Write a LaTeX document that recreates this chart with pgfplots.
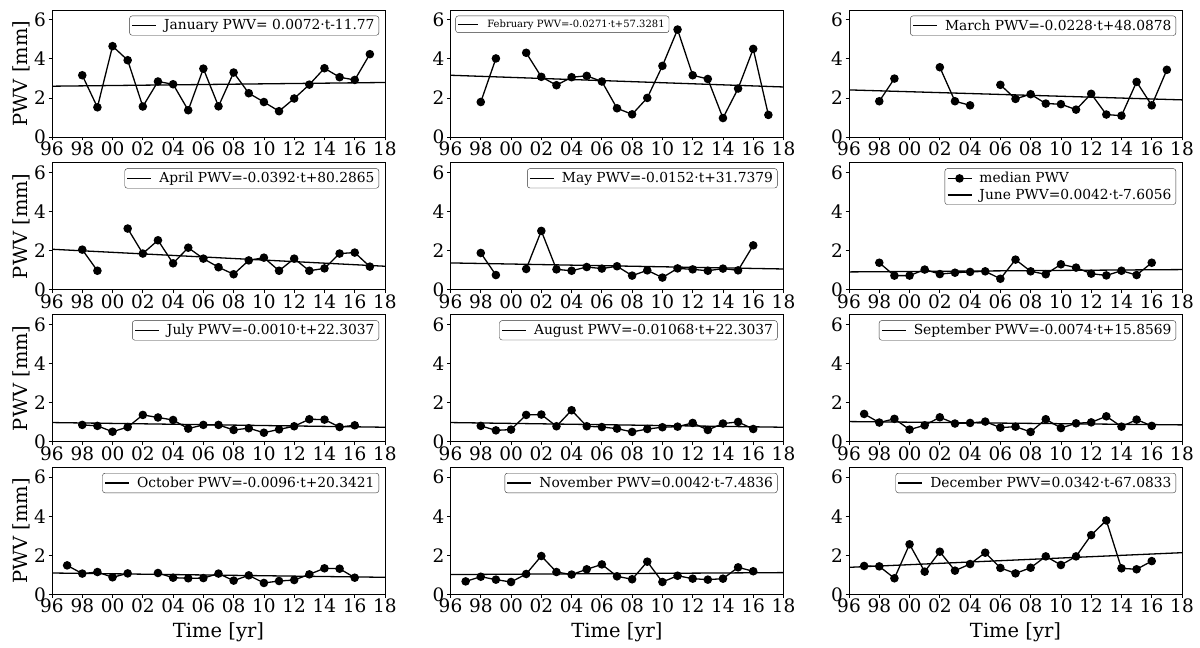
\documentclass[border=0pt]{standalone}
\usepackage{fontspec}
\setmainfont{DejaVu Serif}
\usepackage{pgfplots}
\pgfplotsset{compat=1.18}
\pgfplotsset{
  pwv/.style={
    scale only axis, width=333pt, height=127pt,
    xmin=1996, xmax=2018, ymin=0, ymax=6.5,
    xtick={1996,1998,...,2018},
    xticklabels={96,98,00,02,04,06,08,10,12,14,16,18},
    ytick={0,2,4,6},
    tick align=outside, tick pos=left, major tick length=3.5pt,
    every tick/.style={black, line width=0.8pt},
    axis line style={line width=0.8pt},
    /pgf/number format/assume math mode=true,
    tick label style={font=\fontsize{18.5}{21}\selectfont},
    xticklabel style={inner sep=1pt},
    yticklabel style={inner sep=2.5pt},
    label style={font=\fontsize{19.5}{23}\selectfont},
    unbounded coords=jump,
    legend cell align=left,
    legend style={font=\fontsize{13.8}{16}\selectfont, draw=black!80, rounded corners=2.5pt,
      at={(0.982,0.955)}, anchor=north east, inner xsep=2pt, inner ysep=1.5pt,
      nodes={inner sep=2.3pt, text depth=0.15em}},
    legend image code/.code={\draw[mark repeat=2,mark phase=2,##1] plot coordinates {(0pt,0pt) (12pt,0pt) (24pt,0pt)}; \path (29pt,0pt);},
  },
  med/.style={black, line width=1.3pt, mark=*, mark size=3.6pt, mark options={solid}},
  trend/.style={black, line width=1.3pt, no marks},
  ylab/.style={ylabel={PWV [mm]}, ylabel style={at={(axis description cs:-0.093,0.5)}, anchor=center}},
  xlab/.style={xlabel={Time [yr]}, xlabel style={at={(axis description cs:0.5,-0.30)}, anchor=center}},
}
\begin{document}
\begin{tikzpicture}
\path[use as bounding box] (0pt,0pt) rectangle (1200pt,648pt);
% ---------- Row 1 ----------
\begin{axis}[pwv, ylab, at={(52pt,511pt)}, anchor=south west]
\addplot[med, forget plot] table {
x y
1998 3.16
1999 1.52
2000 4.65
2001 3.93
2002 1.56
2003 2.84
2004 2.70
2005 1.37
2006 3.50
2007 1.57
2008 3.30
2009 2.24
2010 1.79
2011 1.32
2012 1.97
2013 2.68
2014 3.52
2015 3.06
2016 2.92
2017 4.24
};
\addplot[trend] coordinates {(1996,2.60) (2018,2.79)};
\addlegendentry{January PWV= 0.0072·t-11.77}
\end{axis}
\begin{axis}[pwv, at={(450.5pt,511pt)}, anchor=south west,
  legend style={font=\fontsize{10}{12}\selectfont, at={(0.015,0.955)}, anchor=north west},
  legend image code/.code={\draw[mark repeat=2,mark phase=2,#1] plot coordinates {(0pt,0pt) (10pt,0pt) (20pt,0pt)}; \path (26pt,0pt);}]
\addplot[med, forget plot] table {
x y
1998 1.79
1999 4.02
2000 nan
2001 4.31
2002 3.08
2003 2.65
2004 3.06
2005 3.13
2006 2.84
2007 1.47
2008 1.16
2009 2.00
2010 3.64
2011 5.50
2012 3.16
2013 2.97
2014 0.97
2015 2.48
2016 4.51
2017 1.13
};
\addplot[trend] coordinates {(1996,3.16) (2018,2.56)};
\addlegendentry{February PWV=-0.0271·t+57.3281}
\end{axis}
\begin{axis}[pwv, at={(849pt,511pt)}, anchor=south west]
\addplot[med, forget plot] table {
x y
1998 1.83
1999 2.99
2000 nan
2001 nan
2002 3.57
2003 1.83
2004 1.62
2005 nan
2006 2.67
2007 1.95
2008 2.19
2009 1.71
2010 1.68
2011 1.40
2012 2.21
2013 1.15
2014 1.09
2015 2.82
2016 1.62
2017 3.44
};
\addplot[trend] coordinates {(1996,2.41) (2018,1.90)};
\addlegendentry{March PWV=-0.0228·t+48.0878}
\end{axis}
% ---------- Row 2 ----------
\begin{axis}[pwv, ylab, at={(52pt,358.3pt)}, anchor=south west]
\addplot[med, forget plot] table {
x y
1998 2.05
1999 0.97
2000 nan
2001 3.13
2002 1.85
2003 2.53
2004 1.35
2005 2.15
2006 1.59
2007 1.15
2008 0.79
2009 1.50
2010 1.64
2011 0.97
2012 1.59
2013 0.97
2014 1.09
2015 1.85
2016 1.90
2017 1.18
};
\addplot[trend] coordinates {(1996,2.07) (2018,1.20)};
\addlegendentry{April PWV=-0.0392·t+80.2865}
\end{axis}
\begin{axis}[pwv, at={(450.5pt,358.3pt)}, anchor=south west]
\addplot[med, forget plot] table {
x y
1998 1.88
1999 0.75
2000 nan
2001 1.06
2002 3.01
2003 1.04
2004 0.97
2005 1.16
2006 1.08
2007 1.20
2008 0.72
2009 0.99
2010 0.62
2011 1.09
2012 1.04
2013 0.97
2014 1.08
2015 0.99
2016 2.27
};
\addplot[trend] coordinates {(1996,1.37) (2018,1.06)};
\addlegendentry{May PWV=-0.0152·t+31.7379}
\end{axis}
\begin{axis}[pwv, at={(849pt,358.3pt)}, anchor=south west]
\addplot[med] table {
x y
1998 1.38
1999 0.72
2000 0.72
2001 1.03
2002 0.80
2003 0.87
2004 0.91
2005 0.94
2006 0.56
2007 1.54
2008 0.94
2009 0.79
2010 1.30
2011 1.13
2012 0.82
2013 0.73
2014 0.97
2015 0.75
2016 1.38
};
\addlegendentry{median PWV}
\addplot[trend] coordinates {(1996,0.91) (2018,1.03)};
\addlegendentry{June PWV=0.0042·t-7.6056}
\end{axis}
% ---------- Row 3 ----------
\begin{axis}[pwv, ylab, at={(52pt,206.3pt)}, anchor=south west]
\addplot[med, forget plot] table {
x y
1998 0.86
1999 0.81
2000 0.51
2001 0.75
2002 1.37
2003 1.24
2004 1.11
2005 0.67
2006 0.86
2007 0.86
2008 0.60
2009 0.69
2010 0.46
2011 0.63
2012 0.79
2013 1.15
2014 1.13
2015 0.75
2016 0.84
};
\addplot[trend] coordinates {(1996,0.98) (2018,0.74)};
\addlegendentry{July PWV=-0.0010·t+22.3037}
\end{axis}
\begin{axis}[pwv, at={(450.5pt,206.3pt)}, anchor=south west]
\addplot[med, forget plot] table {
x y
1998 0.81
1999 0.58
2000 0.62
2001 1.37
2002 1.39
2003 0.79
2004 1.61
2005 0.79
2006 0.75
2007 0.67
2008 0.50
2009 0.65
2010 0.74
2011 0.77
2012 0.96
2013 0.60
2014 0.93
2015 1.01
2016 0.65
};
\addplot[trend] coordinates {(1996,0.98) (2018,0.74)};
\addlegendentry{August PWV=-0.01068·t+22.3037}
\end{axis}
\begin{axis}[pwv, at={(849pt,206.3pt)}, anchor=south west]
\addplot[med, forget plot] table {
x y
1997 1.42
1998 0.98
1999 1.17
2000 0.62
2001 0.84
2002 1.25
2003 0.93
2004 0.96
2005 1.03
2006 0.72
2007 0.77
2008 0.50
2009 1.15
2010 0.70
2011 0.94
2012 0.99
2013 1.30
2014 0.77
2015 1.13
2016 0.81
};
\addplot[trend] coordinates {(1996,1.03) (2018,0.86)};
\addlegendentry{September PWV=-0.0074·t+15.8569}
\end{axis}
% ---------- Row 4 ----------
\begin{axis}[pwv, ylab, xlab, at={(52pt,53.7pt)}, anchor=south west]
\addplot[med, forget plot] table {
x y
1997 1.48
1998 1.06
1999 1.14
2000 0.87
2001 1.07
2002 nan
2003 1.09
2004 0.85
2005 0.82
2006 0.83
2007 1.06
2008 0.70
2009 0.97
2010 0.58
2011 0.68
2012 0.73
2013 1.02
2014 1.33
2015 1.31
2016 0.85
};
\addplot[trend] coordinates {(1996,1.09) (2018,0.87)};
\addlegendentry{October PWV=-0.0096·t+20.3421}
\end{axis}
\begin{axis}[pwv, xlab, at={(450.5pt,53.7pt)}, anchor=south west]
\addplot[med, forget plot] table {
x y
1997 0.66
1998 0.90
1999 0.75
2000 0.63
2001 1.04
2002 1.96
2003 1.14
2004 1.01
2005 1.28
2006 1.53
2007 0.92
2008 0.77
2009 1.67
2010 0.63
2011 0.95
2012 0.80
2013 0.75
2014 0.80
2015 1.38
2016 1.18
};
\addplot[trend] coordinates {(1996,1.01) (2018,1.11)};
\addlegendentry{November PWV=0.0042·t-7.4836}
\end{axis}
\begin{axis}[pwv, xlab, at={(849pt,53.7pt)}, anchor=south west]
\addplot[med, forget plot] table {
x y
1997 1.45
1998 1.43
1999 0.82
2000 2.56
2001 1.16
2002 2.18
2003 1.21
2004 1.55
2005 2.13
2006 1.35
2007 1.07
2008 1.36
2009 1.94
2010 1.50
2011 1.94
2012 3.03
2013 3.78
2014 1.33
2015 1.28
2016 1.70
};
\addplot[trend] coordinates {(1996,1.38) (2018,2.13)};
\addlegendentry{December PWV=0.0342·t-67.0833}
\end{axis}
\end{tikzpicture}
\end{document}
